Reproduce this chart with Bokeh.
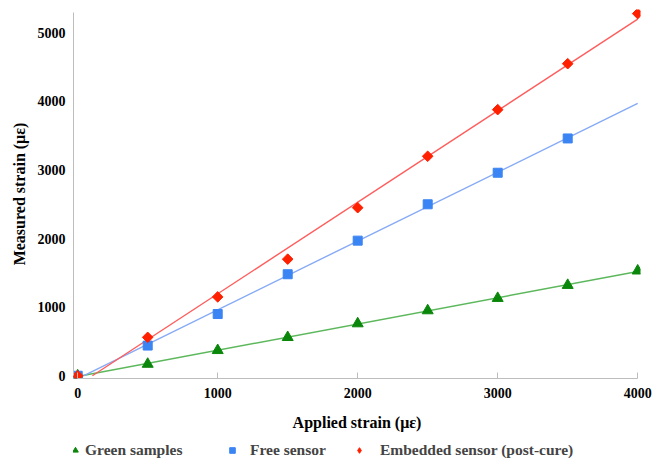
import numpy as np
from bokeh.plotting import figure
from bokeh.layouts import column
from bokeh.models import Range1d, FixedTicker, Legend, LegendItem
from bokeh.embed import file_html
from bokeh.resources import INLINE

# ---- data ----
applied = [0, 500, 1000, 1500, 2000, 2500, 3000, 3500, 4000]
green_samples = [0, 170, 370, 560, 760, 950, 1130, 1320, 1530]
free_applied = [0, 500, 1000, 1500, 2000, 2500, 3000, 3500]
free_sensor = [0, 440, 900, 1480, 1970, 2500, 2960, 3460]
embedded_sensor = [0, 560, 1150, 1700, 2450, 3200, 3880, 4550, 5280]
x_ticks = [0, 1000, 2000, 3000, 4000]
y_ticks = [0, 1000, 2000, 3000, 4000, 5000]
series_names = ["Green samples", "Free sensor", "Embedded sensor (post-cure)"]
x_title = "Applied strain (με)"
y_title = "Measured strain (με)"

X_MAX = 4000


def trend(x, y):
    a, b = np.polyfit(np.asarray(x, float), np.asarray(y, float), 1)
    x0 = max(0.0, -b / a)
    return [x0, X_MAX], [a * x0 + b, a * X_MAX + b]


FONT = "Liberation Serif"
AXIS_GRAY = "#bdbdbd"
COL_G, COL_B, COL_R = "#0a870a", "#3b84f4", "#ff2000"

p = figure(
    width=659, height=435,
    x_range=Range1d(-30, 4020), y_range=Range1d(-40, 5340),
    output_backend="svg", toolbar_location=None,
    min_border_left=73, min_border_top=9, min_border_right=19, min_border_bottom=57,
)
p.outline_line_color = None
p.xgrid.visible = False
p.ygrid.visible = False
p.background_fill_color = "white"
p.border_fill_color = "white"

# trend lines (least-squares fits of each series)
for xs, ys, col in [
    (applied, green_samples, "#5cb85c"),
    (free_applied, free_sensor, "#86aaf6"),
    (applied, embedded_sensor, "#ff5c5c"),
]:
    lx, ly = trend(xs, ys)
    p.line(lx, ly, line_color=col, line_width=1.4)

# markers
p.scatter(applied, green_samples, marker="triangle", size=11,
          fill_color=COL_G, line_color=COL_G)
p.scatter(free_applied, free_sensor, marker="square", size=9,
          fill_color=COL_B, line_color=COL_B)
p.scatter(applied, embedded_sensor, marker="square", size=7.5, angle=np.pi / 4,
          fill_color=COL_R, line_color=COL_R)

# axes
for ax in (p.xaxis[0], p.yaxis[0]):
    ax.axis_line_color = AXIS_GRAY
    ax.major_tick_line_color = AXIS_GRAY
    ax.minor_tick_line_color = None
    ax.major_label_text_font = FONT
    ax.major_label_text_font_style = "bold"
    ax.major_label_text_font_size = "14px"
    ax.major_label_text_color = "black"
    ax.axis_label_text_font = FONT
    ax.axis_label_text_font_style = "bold"
    ax.axis_label_text_font_size = "16px"
    ax.axis_label_text_color = "black"

p.xaxis[0].ticker = FixedTicker(ticks=x_ticks)
p.yaxis[0].ticker = FixedTicker(ticks=y_ticks)
p.xaxis[0].bounds = (0, 4000)
p.yaxis[0].bounds = (0, 5300)
p.xaxis[0].major_tick_in = 6
p.xaxis[0].major_tick_out = 0
p.yaxis[0].major_tick_in = 0
p.yaxis[0].major_tick_out = 0
p.xaxis[0].major_label_standoff = 9
p.yaxis[0].major_label_standoff = 8
p.xaxis[0].axis_label = x_title
p.yaxis[0].axis_label = y_title
p.xaxis[0].axis_label_standoff = 13
p.yaxis[0].axis_label_standoff = 7

# ---- legend strip below the chart (frame aligned with the chart's frame) ----
lg = figure(
    width=659, height=26,
    x_range=Range1d(0, 1), y_range=Range1d(0, 1),
    x_axis_type=None, y_axis_type=None,
    output_backend="svg", toolbar_location=None,
    min_border_left=73, min_border_right=19, min_border_top=0, min_border_bottom=0,
)
lg.grid.visible = False
lg.outline_line_color = None
lg.background_fill_color = "white"
lg.border_fill_color = "white"
d_g = lg.scatter([-5], [-5], marker="triangle", size=11, fill_color=COL_G, line_color=COL_G)
d_b = lg.scatter([-5], [-5], marker="square", size=9, fill_color=COL_B, line_color=COL_B)
d_r = lg.scatter([-5], [-5], marker="diamond", size=11, fill_color=COL_R, line_color=COL_R)

for name, rend, lx, standoff in [
    (series_names[0], d_g, -5, 3),
    (series_names[1], d_b, 152, 11),
    (series_names[2], d_r, 279, 14),
]:
    leg = Legend(
        items=[LegendItem(label=name, renderers=[rend])],
        orientation="horizontal", location=(lx, 2),
        border_line_color=None, background_fill_alpha=0,
        label_text_font=FONT, label_text_font_style="bold", label_text_font_size="15.5px",
        glyph_width=14, glyph_height=14, label_standoff=standoff,
        padding=2, margin=0,
    )
    lg.add_layout(leg, "center")

layout = column(p, lg, spacing=0)
open("out.html", "w").write(file_html(layout, INLINE))
